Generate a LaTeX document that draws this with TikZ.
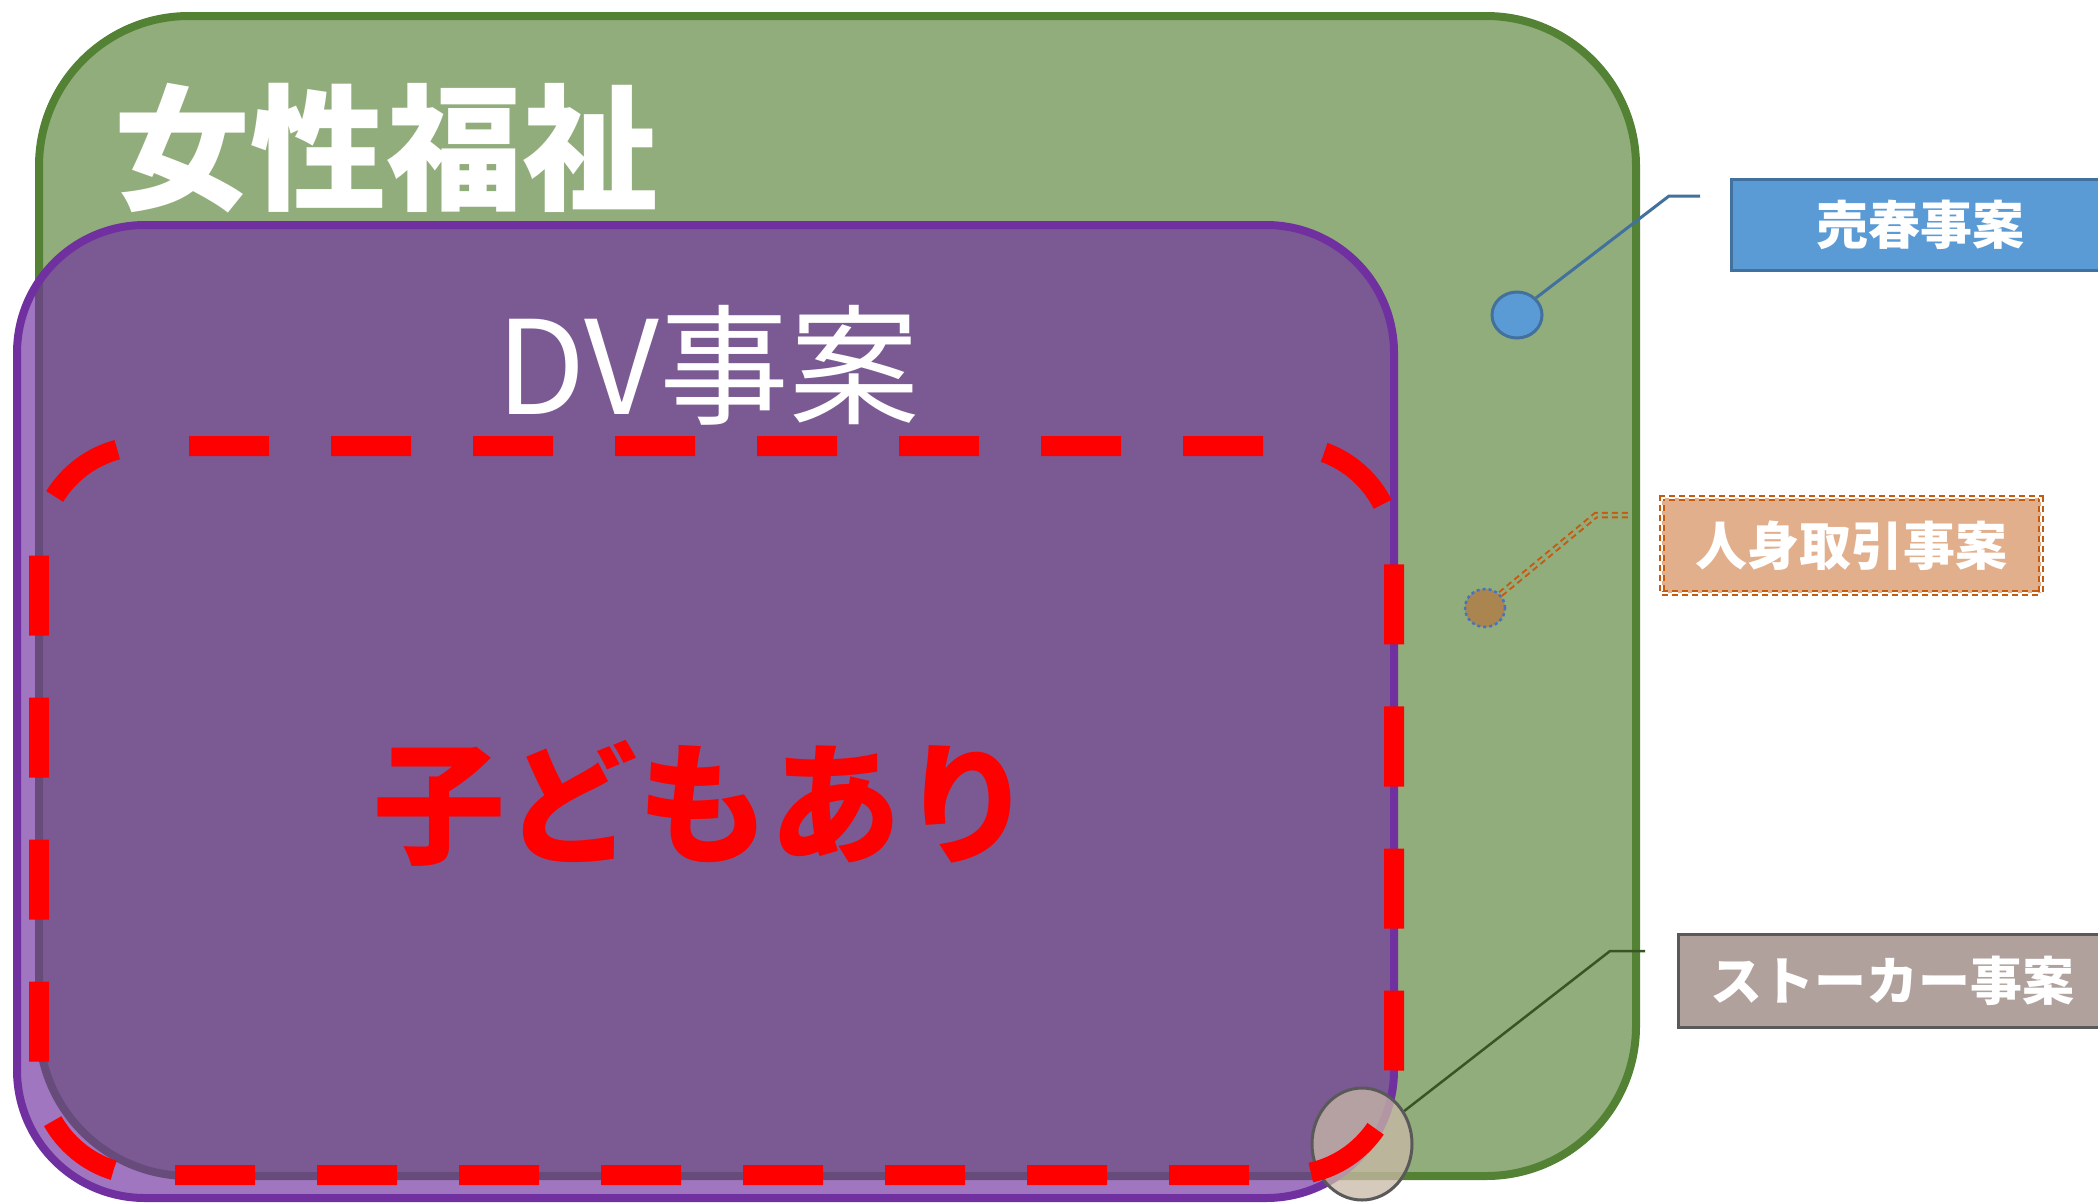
\documentclass[tikz,border=0pt]{standalone}
\usepackage{fontspec}
\newfontfamily\jp{Noto Sans CJK JP}
\usetikzlibrary{shapes.geometric}
\definecolor{gfill}{HTML}{92AD7C}
\definecolor{gline}{HTML}{548235}
\definecolor{pline}{HTML}{7030A0}
\definecolor{bfill}{HTML}{5B9BD5}
\definecolor{bline}{HTML}{41719C}
\definecolor{oline}{HTML}{C55A11}
\definecolor{ofill}{HTML}{E2AF8D}
\definecolor{odot}{HTML}{AB8550}
\definecolor{dotblue}{HTML}{4472C4}
\definecolor{sfill}{HTML}{B0A19C}
\definecolor{sline}{HTML}{595959}
\definecolor{sleader}{HTML}{375623}
\definecolor{ellfill}{HTML}{C9B9A6}
\tikzset{
  welfare/.style={fill=gfill,draw=gline,line width=8pt,rounded corners=150pt},
  dvbox/.style={fill=pline,fill opacity=0.66,draw=none,rounded corners=128pt},
  dvline/.style={draw=pline,line width=8pt,rounded corners=128pt},
  childline/.style={draw=red,line width=20pt,dash pattern=on 80pt off 62pt},
  labelbox/.style={inner sep=0pt,text=white,font=\jp\bfseries\fontsize{52}{60}\selectfont},
  bigtitle/.style={inner sep=0pt,text=white,font=\jp\bfseries\fontsize{136}{150}\selectfont},
}
\begin{document}
\begin{tikzpicture}[x=1pt,y=-1pt]
\useasboundingbox[fill=white] (0,0) rectangle (2098,1202);
% women's welfare
\draw[welfare] (39,16) rectangle (1636,1176);
% prostitution
\node[ellipse,fill=bfill,draw=bline,line width=3pt,minimum width=50pt,minimum height=46pt,inner sep=0pt] (pr) at (1517,315) {};
\coordinate (prk) at (1669,196);
\coordinate (pre) at (1700,196);
\draw[bline,line width=3pt] (pr.42) -- (prk) -- (pre);
\node[labelbox,fill=bfill,draw=bline,line width=3pt,minimum width=379pt,minimum height=91pt] (prbox) at (1920.5,224.5) {売春事案};
% trafficking
\node[ellipse,fill=odot,draw=dotblue,dashed,line width=2.5pt,minimum width=40pt,minimum height=38pt,inner sep=0pt] (tr) at (1485,608) {};
\coordinate (trk) at (1596,515);
\coordinate (tre) at (1631,515);
\draw[oline,line width=2pt,double=gfill,double distance=2.5pt,dash pattern=on 6pt off 4pt] (tr.42) -- (trk) -- (tre);
\node[labelbox,fill=ofill,draw=oline,line width=2pt,double=white,double distance=2.5pt,dash pattern=on 6pt off 4pt,minimum width=379pt,minimum height=95pt] (trbox) at (1851.5,545.5) {人身取引事案};
% DV
\path[dvbox] (17,225) rectangle (1394,1198);
\draw[dvline] (17,225) rectangle (1394,1198);
% stalker
\node[ellipse,fill=ellfill,fill opacity=0.75,draw=sline,line width=3pt,minimum width=100pt,minimum height=112pt,inner sep=0pt] (st) at (1362,1144) {};
\coordinate (stk) at (1610,951);
\coordinate (ste) at (1645,951);
\draw[sleader,line width=2.5pt] (st.38) -- (stk) -- (ste);
\node[labelbox,fill=sfill,draw=sline,line width=3pt,minimum width=428pt,minimum height=93pt] (stbox) at (1892,980.5) {ストーカー事案};
% children
\draw[childline] (189,446) -- (1288,446) arc[start angle=-90,end angle=0,radius=106]
  -- (1394,1069) arc[start angle=0,end angle=90,radius=106]
  -- (145,1175) arc[start angle=90,end angle=180,radius=106]
  -- (39,552) arc[start angle=180,end angle=270,radius=106] -- (175,446);
% titles
\node[bigtitle] (t1) at (386,148) {女性福祉};
\node[inner sep=0pt,text=white,font=\jp\fontsize{130}{140}\selectfont] (t2) at (708,365) {DV事案};
\node[bigtitle,text=red,font=\jp\bfseries\fontsize{132}{145}\selectfont] (t3) at (703,803) {子どもあり};
\end{tikzpicture}
\end{document}
